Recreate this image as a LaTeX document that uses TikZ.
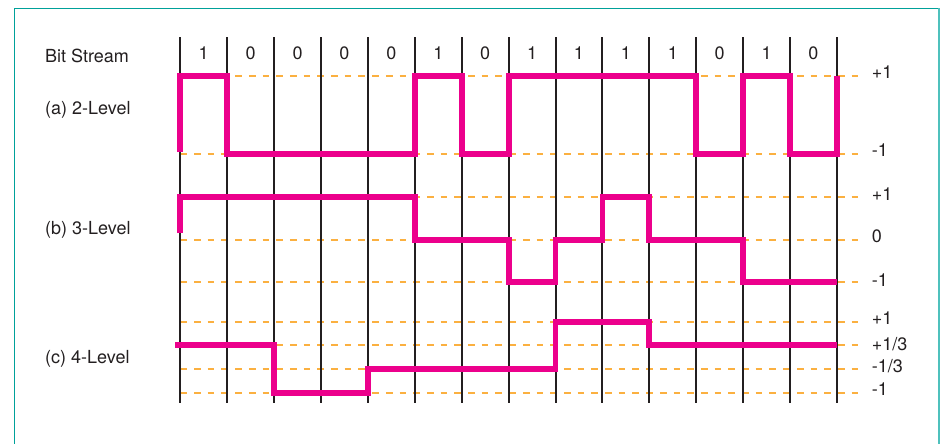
\documentclass[tikz,border=0pt]{standalone}
\usepackage{fontspec}
\setmainfont{TeX Gyre Heros}
\definecolor{sigc}{HTML}{EC008C}
\definecolor{dashc}{HTML}{FBB040}
\definecolor{gridc}{HTML}{231F20}
\definecolor{txtc}{HTML}{231F20}
\definecolor{framec}{HTML}{00A19A}
\definecolor{framelc}{HTML}{4FC1BD}
\def\gx#1{180.3+46.9*#1}
\begin{document}
\begin{tikzpicture}[x=1pt,y=-1pt,
  gridline/.style={line width=2pt, draw=gridc},
  lvl/.style={line width=2pt, draw=dashc, dash pattern=on 6.7pt off 7pt},
  sig/.style={line width=5.8pt, draw=sigc, line join=miter},
  lab/.style={font=\fontsize{18}{21}\selectfont, text=txtc, inner sep=0pt},
  framel/.style={line width=1.6pt, draw=framec},
]
\useasboundingbox (0,0) rectangle (943,444);
% frame
\draw[framel] (14.5,450) -- (14.5,8.5) -- (938,8.5);
\draw[line width=1.8pt, draw=framelc] (939.3,8.5) -- (939.3,450);
% dashed level lines
\foreach \y/\n in {75.7/ap,153.7/am,197.3/bp,240/bz,281.7/bm,321.7/cp,345/cq,369.3/cr,393.3/cm}{
  \coordinate (L\n s) at (180.3,\y);
  \coordinate (L\n e) at (861,\y);
  \draw[lvl] (L\n s) -- (L\n e);
}
% vertical grid lines
\foreach \i in {0,...,14}{
  \coordinate (G\i t) at ({\gx{\i}},37.3);
  \coordinate (G\i b) at ({\gx{\i}},403.3);
  \draw[gridline] (G\i t) -- (G\i b);
}
% bit labels
\foreach \b [count=\i from 0] in {1,0,0,0,0,1,0,1,1,1,1,0,1,0}{
  \node[lab, anchor=base] (bit\i) at ({\gx{\i}+23.45},60) {\b};
}
% row labels
\node[lab, anchor=base west] (bs) at (45,62.3) {Bit Stream};
\node[lab, anchor=base west] (la) at (45,114.3) {(a) 2-Level};
\node[lab, anchor=base west] (lb) at (45,234.3) {(b) 3-Level};
\node[lab, anchor=base west] (lc) at (45,363.3) {(c) 4-Level};
% level labels
\node[lab, anchor=base west] (ra1) at (871.7,78.3) {+1};
\node[lab, anchor=base west] (ra2) at (871.7,156) {-1};
\node[lab, anchor=base west] (rb1) at (871.7,200) {+1};
\node[lab, anchor=base west] (rb2) at (871.7,242.7) {0};
\node[lab, anchor=base west] (rb3) at (871.7,286.7) {-1};
\node[lab, anchor=base west] (rc1) at (871.7,324) {+1};
\node[lab, anchor=base west] (rc2) at (871.7,350) {+1/3};
\node[lab, anchor=base west] (rc3) at (871.7,372) {-1/3};
\node[lab, anchor=base west] (rc4) at (871.7,395.7) {-1};
% signals
\draw[sig] ({\gx0},152) -- ({\gx0},75.7) -| ({\gx1},153.7) -| ({\gx5},75.7)
  -| ({\gx6},153.7) -| ({\gx7},75.7) -| ({\gx{11}},153.7) -| ({\gx{12}},75.7)
  -| ({\gx{13}},153.7) -| ({\gx{14}},75.7);
\draw[sig] ({\gx0},233) -- ({\gx0},197.3) -| ({\gx5},240) -| ({\gx7},281.7)
  -| ({\gx8},240) -| ({\gx9},197.3) -| ({\gx{10}},240) -| ({\gx{12}},281.7)
  -- ({\gx{14}},281.7);
\draw[sig] (175,345) -| ({\gx2},393.3) -| ({\gx4},369.3) -| ({\gx8},321.7)
  -| ({\gx{10}},345) -- ({\gx{14}},345);
\end{tikzpicture}
\end{document}
